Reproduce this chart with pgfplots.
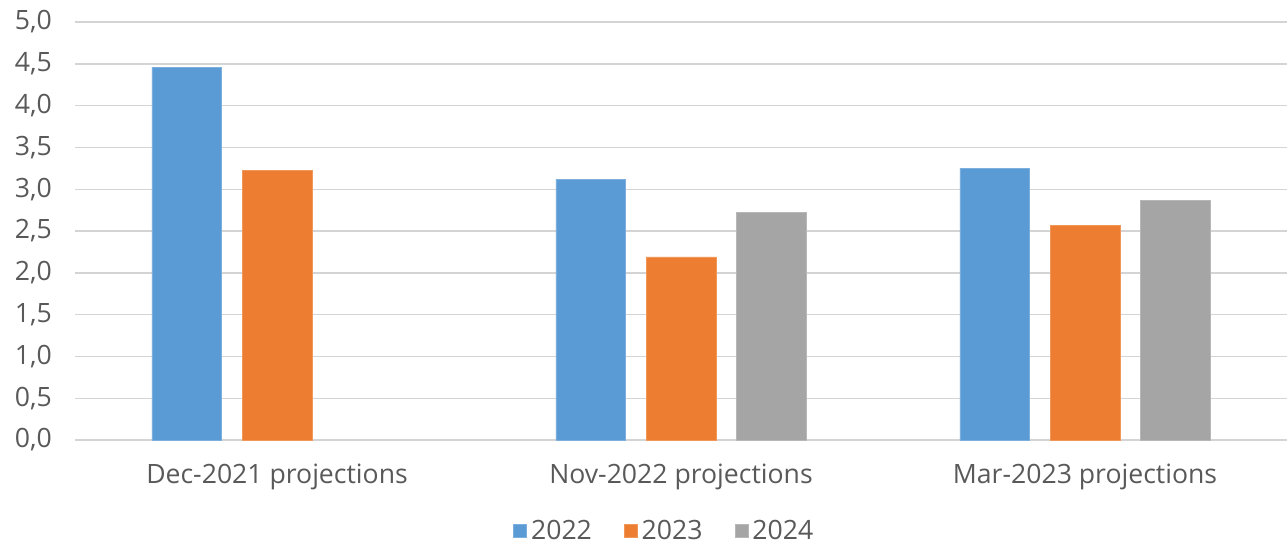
\documentclass[border=0pt]{standalone}
\usepackage{pgfplots}
\pgfplotsset{compat=1.18}
\usepackage{fontspec}
\setmainfont{Open Sans}
\definecolor{c2022}{HTML}{5B9BD5}
\definecolor{c2023}{HTML}{ED7D31}
\definecolor{c2024}{HTML}{A5A5A5}
\definecolor{txt}{HTML}{595959}
\definecolor{gridc}{HTML}{D4D4D4}
\begin{document}
\begin{tikzpicture}
\begin{axis}[
    scale only axis,
    width=606pt, height=209pt,
    xmin=-0.5, xmax=2.5,
    ymin=0, ymax=5,
    ytick={0,0.5,...,5},
    xtick=data,
    xticklabels={Dec-2021 projections, Nov-2022 projections, Mar-2023 projections},
    major tick length=0pt,
    axis line style={draw=none},
    ymajorgrids,
    major grid style={gridc, line width=0.7pt},
    ybar,
    bar width=0.173,
    /pgf/number format/.cd, fixed, fixed zerofill, precision=1, use comma, assume math mode=true,
    /pgfplots/.cd,
    tick label style={font=\fontsize{13.3}{15}\selectfont, text=txt},
    yticklabel style={xshift=-8pt},
    xticklabel style={yshift=-8.5pt},
    legend style={at={(0.487,-0.218)}, anchor=center, draw=none, legend columns=3,
        font=\fontsize{13.3}{15}\selectfont, text=txt,
        /tikz/every even column/.append style={column sep=14pt}},
    legend image code/.code={\fill[#1] (0pt,-3pt) rectangle (6.5pt,3.5pt);},
]
\addplot[fill=c2022, draw=c2022!80!white, bar shift=-0.223] coordinates {(0,4.46) (1,3.12) (2,3.25)};
\addplot[fill=c2023, draw=c2023!80!white, bar shift=0] coordinates {(0,3.22) (1,2.19) (2,2.57)};
\addplot[fill=c2024, draw=c2024!80!white, bar shift=0.223] coordinates {(1,2.72) (2,2.87)};
\legend{2022, 2023, 2024}
\end{axis}
\pgfresetboundingbox
\path[use as bounding box] ([xshift=-37.5pt,yshift=-51.5pt]current axis.south west) rectangle ([yshift=11pt]current axis.north east);
\end{tikzpicture}
\end{document}
